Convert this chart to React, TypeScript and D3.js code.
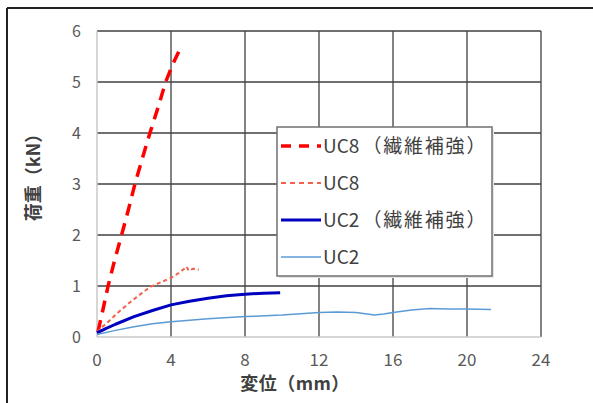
import React from 'react';
import * as d3 from 'd3';

// 荷重-変位 曲線
const xTicks = [0, 4, 8, 12, 16, 20, 24];
const yTicks = [0, 1, 2, 3, 4, 5, 6];

const uc8Fiber: [number, number][] = [
  [0.05, 0.1], [0.3, 0.5], [0.6, 1.0], [0.95, 1.5], [1.33, 2.0], [1.7, 2.5], [2.05, 3.0],
  [2.45, 3.5], [2.86, 4.0], [3.3, 4.5], [3.71, 5.0], [4.1, 5.35], [4.45, 5.62],
];
const uc8: [number, number][] = [
  [0, 0.1], [0.3, 0.2], [0.7, 0.33], [1.2, 0.5], [1.95, 0.73], [2.5, 0.88], [2.86, 0.98],
  [3.5, 1.08], [4, 1.16], [4.4, 1.25], [4.76, 1.35], [4.85, 1.38], [4.95, 1.3], [5.2, 1.34], [5.5, 1.32],
];
const uc2Fiber: [number, number][] = [
  [0, 0.08], [0.5, 0.17], [1, 0.25], [2, 0.4], [3, 0.52], [4, 0.63], [5, 0.7], [6, 0.76],
  [7, 0.81], [8, 0.84], [9, 0.86], [9.9, 0.87],
];
const uc2: [number, number][] = [
  [0, 0.05], [1, 0.13], [2, 0.2], [3, 0.26], [4, 0.3], [6, 0.36], [8, 0.4], [10, 0.43],
  [12, 0.48], [13, 0.49], [14, 0.48], [15, 0.43], [15.5, 0.45], [16, 0.48], [17, 0.53],
  [18, 0.56], [19, 0.55], [20, 0.55], [21.3, 0.54],
];

const seriesNames = ['UC8', 'UC8', 'UC2', 'UC2'];
const seriesNotes = ['（繊維補強）', '', '（繊維補強）', ''];

const font = '"Noto Sans CJK JP", "Noto Sans", sans-serif';

export default function App() {
  const x = d3.scaleLinear().domain([0, 24]).range([97, 541]);
  const y = d3.scaleLinear().domain([0, 6]).range([337, 31]);
  const line = d3.line<[number, number]>().x(d => x(d[0])).y(d => y(d[1]));

  const styles = [
    { stroke: '#ff0000', width: 3.5, dash: '12,8' },
    { stroke: '#f4604a', width: 2, dash: '4,3' },
    { stroke: '#0000c0', width: 3, dash: 'none' },
    { stroke: '#5b9bd5', width: 1.5, dash: 'none' },
  ];
  const data = [uc8Fiber, uc8, uc2Fiber, uc2];

  const lg = { x: 277, y: 127, w: 215, h: 149 };

  return (
    <div style={{ position: 'absolute', left: 0, top: 0 }}>
      <svg width={593} height={403} style={{ display: 'block', background: '#fff' }}>
        <line x1={7} x2={593} y1={8} y2={8} stroke="#222" strokeWidth={2} />
        <line x1={7} x2={7} y1={8} y2={403} stroke="#222" strokeWidth={2} />

        {xTicks.slice(1).map(t => (
          <line key={'gx' + t} x1={x(t)} x2={x(t)} y1={y(0)} y2={y(6)} stroke="#404040" strokeWidth={1.3} />
        ))}
        {yTicks.slice(1).map(t => (
          <line key={'gy' + t} x1={x(0)} x2={x(24)} y1={y(t)} y2={y(t)} stroke="#404040" strokeWidth={1.3} />
        ))}
        <line x1={x(0)} x2={x(24)} y1={y(0)} y2={y(0)} stroke="#c8c8c8" strokeWidth={1.5} />
        <line x1={x(0)} x2={x(0)} y1={y(0)} y2={y(6)} stroke="#c8c8c8" strokeWidth={1.5} />

        {xTicks.map(t => (
          <text key={'tx' + t} x={x(t)} y={366} textAnchor="middle" fontSize={17} fill="#595959" fontFamily={font}>{t}</text>
        ))}
        {yTicks.map(t => (
          <text key={'ty' + t} x={81} y={y(t) + 6} textAnchor="end" fontSize={16} fill="#595959" fontFamily={font}>{t}</text>
        ))}

        <text x={295} y={390} textAnchor="middle" fontSize={18} fontWeight="bold" fill="#404040" fontFamily={font} letterSpacing={0.5}>変位（mm）</text>
        <text transform="translate(40,173) rotate(-90)" textAnchor="middle" fontSize={18} fontWeight="bold" fill="#404040" fontFamily={font}>荷重（kN）</text>

        {data.map((d, i) => (
          <path key={'s' + i} d={line(d) || ''} fill="none" stroke={styles[i].stroke} strokeWidth={styles[i].width}
            strokeDasharray={styles[i].dash} strokeLinejoin="round" />
        ))}

        <rect x={lg.x + 2} y={lg.y + 2} width={lg.w} height={lg.h} fill="#e6e6e6" />
        <rect x={lg.x} y={lg.y} width={lg.w} height={lg.h} fill="#fff" stroke="#707070" strokeWidth={1.5} />
        {seriesNames.map((n, i) => {
          const ry = 146 + i * 37;
          return (
            <g key={'lg' + i}>
              <line x1={281} x2={321} y1={ry} y2={ry} stroke={styles[i].stroke} strokeWidth={styles[i].width}
                strokeDasharray={styles[i].dash === 'none' ? 'none' : (i === 0 ? '10,8' : '5,4')} />
              <text x={323} y={ry + 7} fontSize={19} fill="#404040" fontFamily={font}>
                <tspan>{n}</tspan>
                {seriesNotes[i] && <tspan dx={3} letterSpacing={1.8}>{seriesNotes[i]}</tspan>}
              </text>
            </g>
          );
        })}
      </svg>
    </div>
  );
}
